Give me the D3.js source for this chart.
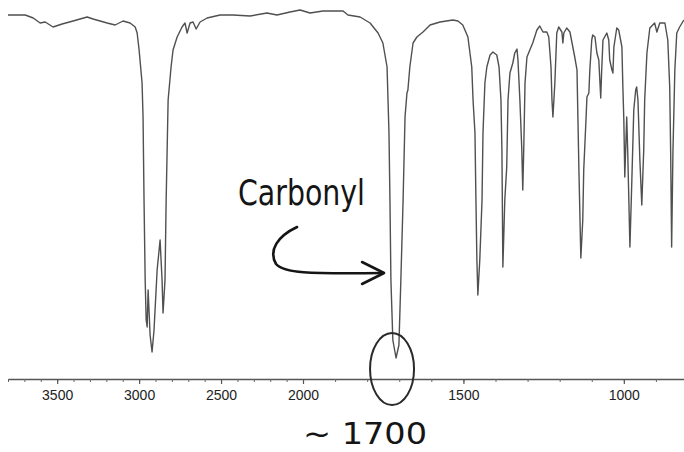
<!DOCTYPE html>
<html>
<head>
<meta charset="utf-8">
<script src="https://cdn.jsdelivr.net/npm/d3@7"></script>
<style>
  html, body { margin: 0; padding: 0; background: #fff; }
  svg { display: block; }
</style>
</head>
<body>
<svg id="chart" width="684" height="452"></svg>
<script>
// Wavenumbers (cm^-1)
const wavenumbers = [3800,3695,3646,3604,3573,3525,3470,3403,3317,3281,3195,3146,3098,3055,3024,3012,3000,2982,2976,2970,
  2963,2957,2951,2945,2933,2921,2909,2890,2872,2860,2854,2842,2835,2823,2805,2793,2768,2738,2720,2707,
  2689,2671,2652,2628,2585,2506,2427,2323,2220,2159,2079,2018,1978,1938,1875,1860,1822,1791,1766,1751,
  1738,1735,1732,1729,1726,1720,1710,1701,1695,1688,1682,1676,1673,1667,1657,1645,1626,1604,1573,1533,
  1517,1502,1486,1474,1470,1464,1461,1458,1455,1449,1442,1439,1433,1427,1417,1408,1396,1389,1383,1380,
  1377,1371,1365,1361,1355,1346,1340,1333,1330,1324,1318,1315,1312,1308,1302,1293,1284,1271,1262,1252,
  1240,1234,1227,1224,1221,1215,1209,1203,1193,1190,1187,1178,1168,1153,1146,1143,1140,1134,1128,1125,
  1118,1115,1109,1106,1100,1097,1090,1084,1078,1072,1069,1065,1053,1047,1044,1037,1034,1031,1022,1016,
  1006,1003,1000,997,991,988,981,975,969,963,960,956,950,944,938,935,928,919,904,897,
  888,872,863,857,854,851,847,841,835,826,813];

// Transmittance (%), same order
const transmittance = [96.25,96.25,95.5,94.25,94.5,93.25,94,94.75,95.75,95.25,94.25,93.75,94.75,94.25,93.25,91.75,87.5,79.25,70.75,50,
  30,20,18.25,27.5,16.25,12,17.5,32.5,40,30,21.75,30,50,75,83.25,87.5,90.75,93.25,94.25,91.75,
  94.25,94.5,92.75,94.5,95.5,96.25,96.25,96,96.75,96.25,97,97.5,96.75,97.25,97.25,96.25,95.75,94.25,91.75,89.25,
  83.25,75,66.75,50,30,15,10.5,13.75,30,50,70.75,76.75,77.5,83.25,89.25,90.75,92,93.75,94.5,95,
  94.75,93.75,90.75,83.25,75,66.75,50,35,26.25,35,50,66.75,79.25,83.25,86.25,87,86.25,83.25,75,62.5,
  33.25,50,58.25,75,81.75,84.25,86.75,87.75,85,75,62.5,52.5,62.5,79.25,85.75,87.5,89.25,92.5,93.5,92,
  92,90.75,83.25,75,70.75,79.25,91.75,93.25,92,89.25,91.75,93,92,85.75,82.5,70,57.5,35.5,45,57.5,
  70,75.75,76.75,82.5,90,91.25,90.75,86.75,85,75.5,82.5,90,91.75,90,85,82.5,81.75,88.25,93,92.5,
  88.25,78.25,70,55.75,70.75,62.5,38.25,55,72.5,77.5,78.25,75,60,48.75,62.5,75,86.75,93,94.25,92,
  94.25,94.25,90,78.25,61.75,38.25,61.75,82.5,91.75,93.25,95];

const majorTicks = [3500, 3000, 2500, 2000, 1500, 1000];
const minorTicks = d3.range(3800, 799, -100);
const annotationLabel = "Carbonyl";
const annotationValue = "~ 1700";
const carbonylPeak = 1710;

const svg = d3.select("#chart");
svg.append("rect").attr("width", 684).attr("height", 452).attr("fill", "#fff");

// Piecewise IR wavenumber axis (scale change at 2000)
const x = d3.scaleLinear().domain([3800, 2000, 800]).range([8, 303, 688]);
const y = d3.scaleLinear().domain([0, 100]).range([400, 0]);
const axisY = 379;

// Spectrum
const pts = wavenumbers.map((w, i) => [w, transmittance[i]]);
svg.append("path")
  .datum(pts)
  .attr("fill", "none")
  .attr("stroke", "#505050")
  .attr("stroke-width", 1.4)
  .attr("stroke-linejoin", "round")
  .attr("d", d3.line().x(d => x(d[0])).y(d => y(d[1])));

// Minor ticks
svg.append("g")
  .attr("transform", `translate(0,${axisY})`)
  .call(d3.axisBottom(x).tickValues(minorTicks).tickSize(3).tickSizeOuter(0).tickFormat(""))
  .call(g => g.select(".domain").attr("stroke", "#555").attr("stroke-width", 1.5))
  .call(g => g.selectAll(".tick line").attr("stroke", "#666"));

// Major ticks + labels
svg.append("g")
  .attr("transform", `translate(0,${axisY})`)
  .call(d3.axisBottom(x).tickValues(majorTicks).tickSize(5).tickSizeOuter(0).tickPadding(6).tickFormat(d3.format("d")))
  .call(g => g.select(".domain").remove())
  .call(g => g.selectAll(".tick line").attr("stroke", "#555").attr("stroke-width", 1.2))
  .call(g => g.selectAll(".tick text")
    .attr("font-family", "Liberation Sans, Arial, sans-serif")
    .attr("font-size", 14)
    .attr("fill", "#222"));

// Handwritten annotations
const px = x(carbonylPeak), py = y(10.5);
const ink = "#151515";

svg.append("text")
  .attr("x", 238).attr("y", 205)
  .attr("font-family", "Liberation Sans Narrow, DejaVu Sans Condensed, sans-serif")
  .attr("font-size", 36)
  .attr("textLength", 127)
  .attr("lengthAdjust", "spacingAndGlyphs")
  .attr("fill", ink)
  .text(annotationLabel);

svg.append("path")
  .attr("d", `M${px - 99},227 C${px - 118},236 ${px - 128},250 ${px - 120},264 C${px - 112},273 ${px - 90},274 ${px - 13},273`)
  .attr("fill", "none").attr("stroke", ink).attr("stroke-width", 2.6).attr("stroke-linecap", "round");
svg.append("path")
  .attr("d", `M${px - 34},262 L${px - 12},273 L${px - 34},284`)
  .attr("fill", "none").attr("stroke", ink).attr("stroke-width", 2.6)
  .attr("stroke-linecap", "round").attr("stroke-linejoin", "round");

svg.append("ellipse")
  .attr("cx", px - 4).attr("cy", py + 11)
  .attr("rx", 22).attr("ry", 36)
  .attr("fill", "none").attr("stroke", "#2a2a2a").attr("stroke-width", 2);

svg.append("text")
  .attr("x", 303).attr("y", 444)
  .attr("font-family", "Liberation Sans Narrow, DejaVu Sans Condensed, sans-serif")
  .attr("font-size", 31)
  .attr("textLength", 124)
  .attr("lengthAdjust", "spacingAndGlyphs")
  .attr("fill", ink)
  .text(annotationValue);
</script>
</body>
</html>
